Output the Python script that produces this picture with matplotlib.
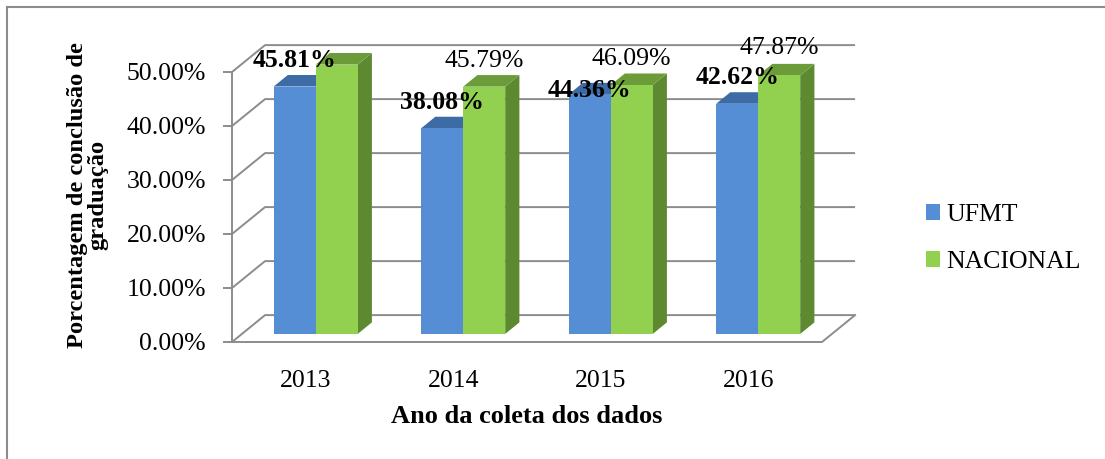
import matplotlib.pyplot as plt
from matplotlib.patches import Polygon, Patch
from matplotlib.lines import Line2D
from matplotlib.ticker import FuncFormatter

# dados
anos = ['2013', '2014', '2015', '2016']
ufmt = [0.4581, 0.3808, 0.4436, 0.4262]
nacional = [0.4988, 0.4579, 0.4609, 0.4787]
series_names = ['UFMT', 'NACIONAL']
yticks = [0.0, 0.1, 0.2, 0.3, 0.4, 0.5]

plt.rcParams['font.family'] = ['Liberation Serif', 'DejaVu Serif']

GRID = '#8c8c8c'
BLUE = ('#558ed5', '#3d6ba6', '#3d6ba6')     # front, top, side
GREEN = ('#92d050', '#6c9b3a', '#5d8a31')
FS = 18.5

# pseudo-3D depth, in data units (x: category, y: fraction)
DX, DY = 0.224, 0.0498
BAR_D0 = 0.30       # where the bar front sits in the depth
BAR_DEPTH = 0.43
BAR_W = 0.285

# distancia (px) entre o topo da barra e o rotulo; Excel empurra o de 2015
label_gap_ufmt = [26, 26, 4, 26]
label_gap_nac = [26, 26, 26, 27]


def draw_bar(ax, x0, v, colors):
    front, top, side = colors
    fx0 = x0 + BAR_D0 * DX
    fx1 = fx0 + BAR_W
    by = BAR_D0 * DY
    ty = v + by
    bx, bby = BAR_DEPTH * DX, BAR_DEPTH * DY
    ax.add_patch(Polygon([(fx1, by), (fx1 + bx, by + bby), (fx1 + bx, ty + bby), (fx1, ty)],
                         closed=True, facecolor=side, edgecolor='none', zorder=3, clip_on=False))
    ax.add_patch(Polygon([(fx0, ty), (fx1, ty), (fx1 + bx, ty + bby), (fx0 + bx, ty + bby)],
                         closed=True, facecolor=top, edgecolor='none', zorder=3, clip_on=False))
    ax.add_patch(Polygon([(fx0, by), (fx1, by), (fx1, ty), (fx0, ty)],
                         closed=True, facecolor=front, edgecolor='none', zorder=3, clip_on=False))
    return (fx0 + fx1) / 2, ty


fig = plt.figure(figsize=(11.05, 4.59), dpi=100)
ax = fig.add_axes([232 / 1105, (459 - 342) / 459, 590 / 1105, 270 / 459])
ax.set_xlim(-0.5, len(anos) - 0.5)
ax.set_ylim(0, 0.5)
ax.set_facecolor('none')

# grade: parede do fundo + parede lateral
x_left, x_right = -0.5, len(anos) - 0.5
for t in yticks:
    ax.plot([x_left, x_left + DX, x_right + DX], [t, t + DY, t + DY],
            color=GRID, lw=1.4, zorder=1, clip_on=False, solid_capstyle='butt')
# piso frontal
ax.plot([x_left, x_right, x_right + DX], [0, 0, DY], color=GRID, lw=1.4,
        zorder=1, clip_on=False)

for i, (u, n) in enumerate(zip(ufmt, nacional)):
    cx, ty = draw_bar(ax, i - BAR_W, u, BLUE)
    ax.annotate(f'{u * 100:.2f}%', xy=(cx, ty), xytext=(0, label_gap_ufmt[i]),
                textcoords='offset pixels', ha='center', va='center', fontsize=FS,
                fontweight='bold', zorder=5)
    cx, ty = draw_bar(ax, i, n, GREEN)
    ax.annotate(f'{n * 100:.2f}%', xy=(cx, ty), xytext=(0, label_gap_nac[i]),
                textcoords='offset pixels', ha='center', va='center', fontsize=FS, zorder=5)

for s in ['top', 'right', 'bottom']:
    ax.spines[s].set_visible(False)
ax.spines['left'].set_color(GRID)
ax.spines['left'].set_linewidth(1.4)

ax.set_yticks(yticks)
ax.yaxis.set_major_formatter(FuncFormatter(lambda v, p: f'{v * 100:.2f}%'))
ax.tick_params(axis='y', length=6.7, width=1.4, color=GRID, direction='out', pad=12, labelsize=FS)
ax.set_xticks(range(len(anos)))
ax.set_xticklabels(anos)
ax.tick_params(axis='x', length=0, pad=20, labelsize=FS)

ax.set_xlabel('Ano da coleta dos dados', fontsize=19, fontweight='bold')
ax.xaxis.set_label_coords(0.5, -0.235)

fig.text(88 / 1105, 1 - 195 / 459, 'Porcentagem de conclusão de\ngraduação', rotation=90,
         ha='center', va='center', multialignment='center', fontsize=17.6, fontweight='bold',
         linespacing=0.95)

handles = [Patch(facecolor=BLUE[0]), Patch(facecolor=GREEN[0])]
fig.legend(handles, series_names, loc='upper left', bbox_to_anchor=(926 / 1105, 1 - 204 / 459),
           bbox_transform=fig.transFigure, frameon=False, fontsize=FS, handlelength=0.54,
           handleheight=0.54, handletextpad=0.25, labelspacing=0.98, borderpad=0, borderaxespad=0)

# moldura do grafico (so esquerda e topo visiveis)
fig.add_artist(Line2D([7 / 1105, 7 / 1105], [0, 1 - 7 / 459], transform=fig.transFigure,
                      color=GRID, lw=1.5))
fig.add_artist(Line2D([7 / 1105, 1], [1 - 7 / 459, 1 - 7 / 459], transform=fig.transFigure,
                      color=GRID, lw=1.5))

fig.savefig('out.png', dpi=100)
